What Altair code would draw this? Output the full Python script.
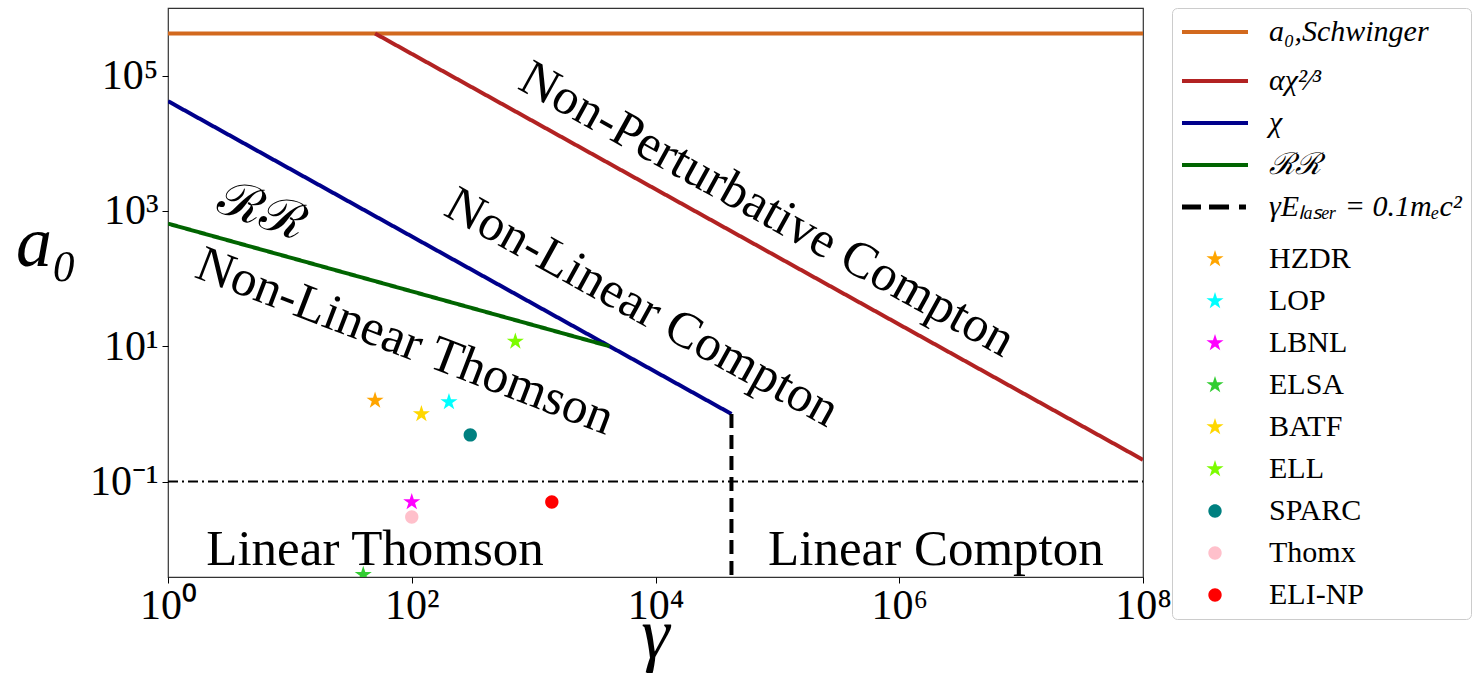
import altair as alt
import pandas as pd

# ---------------- data ----------------
# boundary lines (straight segments in log-log space)
LINE_NAMES = ["a₀,Schwinger", "αχ²⁄³", "χ", "ℛℛ", "γEₗₐₛₑᵣ = 0.1mₑc²"]
LINE_COLORS = ["#d2691e", "#b22222", "#00008b", "#006400", "#000000"]
schw_gamma = [1, 1e8]
schw_a0 = [4.2e5, 4.2e5]
alpha_gamma = [50, 1e8]
alpha_a0 = [4.2e5, 0.21]
chi_gamma = [1, 4.2e4]
chi_a0 = [4.2e4, 1.0]
rr_gamma = [1, 4200]
rr_a0 = [650, 10]
laser_gamma = [4.2e4, 4.2e4]
laser_a0 = [1.0, 0.0039]
ref_gamma = [1, 1e8]
ref_a0 = [0.1, 0.1]

# facilities
FAC_NAMES = ["HZDR", "LOP", "LBNL", "ELSA", "BATF", "ELL", "SPARC", "Thomx", "ELI-NP"]
FAC_COLORS = ["#ffa500", "#00ffff", "#ff00ff", "#32cd32", "#ffd700", "#7cfc00",
              "#008080", "#ffc0cb", "#ff0000"]
FAC_MARKERS = ["star", "star", "star", "star", "star", "star", "circle", "circle", "circle"]
fac_gamma = [50, 202, 100, 40, 120, 708, 302, 100, 1410]
fac_a0 = [1.58, 1.5, 0.05, 0.0042, 1.0, 11.8, 0.49, 0.03, 0.05]

# region labels
REGION_TEXT = ["Non-Perturbative Compton", "Non-Linear Compton", "Non-Linear Thomson",
               "ℛℛ", "Linear Thomson", "Linear Compton"]
region_gamma = [82000, 7730, 88, 5.9, 50, 2.0e6]
region_a0 = [1040, 37, 11.6, 970, 0.0096, 0.0096]
region_angle = [29, 29, 21, 20, 0, 0]

X_TICKS = [1, 1e2, 1e4, 1e6, 1e8]
Y_TICKS = [0.1, 10, 1e3, 1e5]

# ---------------- symbol paths ----------------
STAR = ("M0,-1.2L0.2694,-0.3708L1.1413,-0.3708L0.436,0.1417L0.7053,0.9708L0,0.4584"
        "L-0.7053,0.9708L-0.436,0.1417L-1.1413,-0.3708L-0.2694,-0.3708Z")
CIRCLE = "M-0.89,0A0.89,0.89,0,1,0,0.89,0A0.89,0.89,0,1,0,-0.89,0Z"
LINE_SYM = "M-4.4,-0.27L4.4,-0.27L4.4,0.27L-4.4,0.27Z"
# vanishing sub-paths below only enlarge a legend row (taller math labels)
SCHW_SYM = LINE_SYM + "M0,2.8L0.005,2.8L0.005,2.805Z"
DASH_SYM = ("M-4.4,-0.33L-1.87,-0.33L-1.87,0.33L-4.4,0.33Z"
            "M-0.8,-0.33L1.87,-0.33L1.87,0.33L-0.8,0.33Z"
            "M3.2,-0.33L4.13,-0.33L4.13,0.33L3.2,0.33Z"
            "M0,3.2L0.005,3.2L0.005,3.205Z")

ALL_NAMES = LINE_NAMES + FAC_NAMES
ALL_COLORS = LINE_COLORS + FAC_COLORS
ALL_SHAPES = ([SCHW_SYM, LINE_SYM, LINE_SYM, LINE_SYM, DASH_SYM]
              + [STAR if m == "star" else CIRCLE for m in FAC_MARKERS])

# ---------------- tables ----------------
rows = []
for name, gs, As in zip(LINE_NAMES[:4], [schw_gamma, alpha_gamma, chi_gamma, rr_gamma],
                        [schw_a0, alpha_a0, chi_a0, rr_a0]):
    for i, (g, a) in enumerate(zip(gs, As)):
        rows.append({"name": name, "gamma": g, "a0": a, "ord": i})
for i, (g, a) in enumerate(zip(laser_gamma, laser_a0)):
    rows.append({"name": LINE_NAMES[4], "gamma": g, "a0": a, "ord": i})
lines_df = pd.DataFrame(rows)
ref_df = pd.DataFrame({"gamma": ref_gamma, "a0": ref_a0})
fac_df = pd.DataFrame({"name": FAC_NAMES, "gamma": fac_gamma, "a0": fac_a0})
text_df = pd.DataFrame({"label": REGION_TEXT, "gamma": region_gamma, "a0": region_a0,
                        "angle": region_angle})

# ---------------- scales / axes ----------------
SERIF = "Liberation Serif"
LABEL_EXPR = ("'10' + (datum.value < 1 ? '⁻' : '') + substring('⁰¹²³⁴⁵⁶⁷⁸⁹', "
              "abs(round(log(datum.value)/LN10)), abs(round(log(datum.value)/LN10)) + 1)")

xscale = alt.Scale(type="log", domain=[1, 1e8], nice=False)
yscale = alt.Scale(type="log", domain=[10 ** -2.41, 1e6], nice=False)

common_axis = dict(grid=False, domain=False, tickSize=6, tickColor="black", tickWidth=1,
                   labelFont=SERIF, labelFontSize=42, labelColor="black",
                   labelExpr=LABEL_EXPR, labelFlush=False, labelOverlap=False,
                   titleFont=SERIF, titleFontSize=72, titleFontStyle="italic",
                   titleFontWeight="normal", titleColor="black", titleAngle=0,
                   titleAlign="center", titleBaseline="alphabetic")
xaxis = alt.Axis(values=X_TICKS, title="γ", labelPadding=2, titleX=487, titleY=80, **common_axis)
yaxis = alt.Axis(values=Y_TICKS, title="a₀", labelPadding=4, titleX=-122, titleY=257, **common_axis)

X = alt.X("gamma:Q", scale=xscale, axis=xaxis)
Y = alt.Y("a0:Q", scale=yscale, axis=yaxis)

# lines get their own stroke scale (different domain, so no merged legend)
stroke_scale = alt.Scale(domain=LINE_NAMES, range=LINE_COLORS)
dash_scale = alt.Scale(domain=LINE_NAMES, range=[[1, 0], [1, 0], [1, 0], [1, 0], [14, 7]])
# legend (all entries) comes from the point layer
color_scale = alt.Scale(domain=ALL_NAMES, range=ALL_COLORS)
shape_scale = alt.Scale(domain=ALL_NAMES, range=ALL_SHAPES)

italic_expr = ("indexof(['" + "','".join(LINE_NAMES) + "'], datum.value) >= 0 ? 'italic' : 'normal'")
LEG = alt.Legend(title=None, orient="none", legendX=1004, legendY=0, padding=9,
                 symbolSize=225, symbolStrokeWidth=0, symbolOffset=19, labelOffset=39,
                 rowPadding=12, labelFont=SERIF, labelFontSize=30, labelColor="black",
                 labelFontStyle=alt.ExprRef(expr=italic_expr), labelLimit=0,
                 fillColor="white", strokeColor="#cccccc", cornerRadius=5, symbolOpacity=1)

# ---------------- layers ----------------
lines = alt.Chart(lines_df).mark_line(strokeWidth=4, clip=True).encode(
    x=X, y=Y,
    stroke=alt.Stroke("name:N", scale=stroke_scale, legend=None),
    strokeDash=alt.StrokeDash("name:N", scale=dash_scale, legend=None),
    order="ord:Q")

ref = alt.Chart(ref_df).mark_line(color="black", strokeWidth=2, strokeDash=[10, 4, 2, 4]).encode(
    x=X, y=Y)

texts = alt.Chart(text_df).mark_text(font=SERIF, fontSize=51, color="black",
                                     align="center", baseline="middle").encode(
    x=X, y=Y, text="label:N", angle=alt.Angle("angle:Q", scale=None))

points = alt.Chart(fac_df).mark_point(filled=True, size=225, opacity=1, strokeWidth=0, clip=True).encode(
    x=X, y=Y,
    color=alt.Color("name:N", scale=color_scale, legend=LEG),
    shape=alt.Shape("name:N", scale=shape_scale, legend=LEG))

chart = alt.layer(lines, ref, texts, points).properties(
    width=975, height=569,
    autosize=alt.AutoSizeParams(type="none"),
    padding={"left": 168, "top": 8, "right": 339, "bottom": 120},
    background="white",
).configure_view(stroke="#333333", strokeWidth=1.2)

chart.save("out.html", embed_options={"renderer": "svg", "actions": False})
